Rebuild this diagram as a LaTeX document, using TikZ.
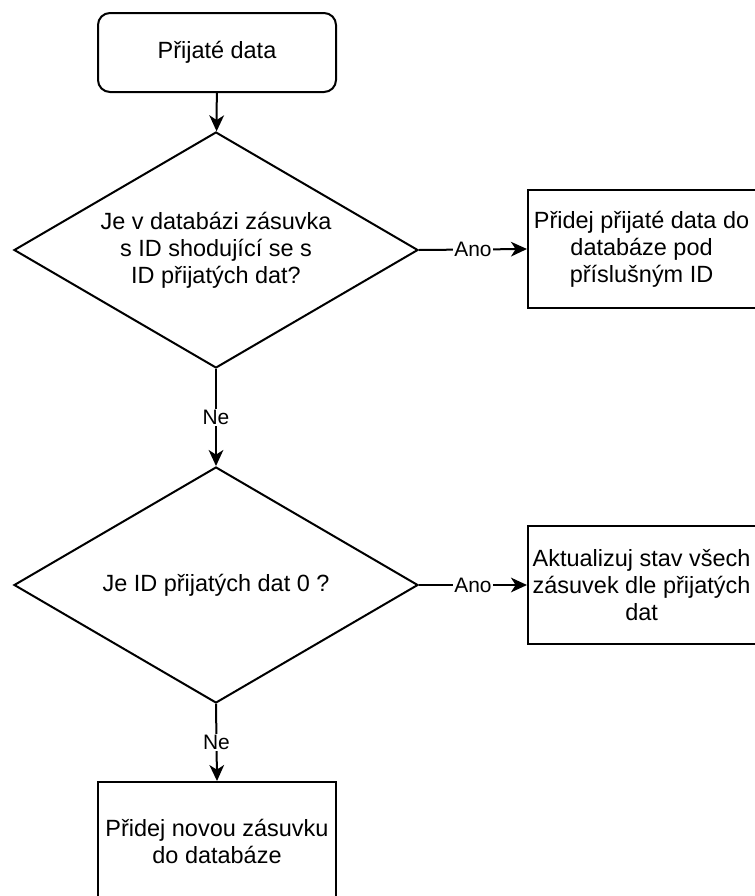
\documentclass[tikz,border=0pt]{standalone}
\usepackage{fontspec}
\setmainfont{Liberation Sans}
\usetikzlibrary{shapes.geometric,arrows.meta}

\tikzset{
  every node/.style={font=\fontsize{17.6}{20.25}\selectfont, align=center, inner sep=0pt},
  startbox/.style={draw, line width=1.5pt, rounded corners=9pt, minimum width=178.5pt, minimum height=59.25pt},
  actionbox/.style={draw, line width=1.5pt, minimum width=173pt, minimum height=88.5pt},
  widebox/.style={draw, line width=1.5pt, minimum width=178.5pt, minimum height=88.5pt},
  decision/.style={draw, diamond, aspect=1.71, line width=1.5pt, minimum width=303pt, minimum height=177pt},
  flow/.style={line width=1.5pt, -{Stealth[length=12pt, width=11pt, inset=3.5pt]}},
  answer/.style={font=\fontsize{15.7}{18}\selectfont, fill=white, inner sep=1pt}
}

\begin{document}
\begin{tikzpicture}[x=0.75pt, y=-0.75pt]
  \useasboundingbox (0,0) rectangle (755,896);

  \node[startbox] (start) at (217,52.5) {Přijaté data};
  \node[decision] (q1) at (216,250) {Je v databázi zásuvka\\s ID shodující se s\\ID přijatých dat?};
  \node[actionbox] (add) at (643.3,249) {\hspace*{-2.6pt}Přidej přijaté data do\\\hspace*{-2.6pt}databáze pod\\\hspace*{-2.6pt}příslušným ID};
  \node[decision] (q2) at (216,585) {Je ID přijatých dat 0 ?};
  \node[actionbox] (update) at (643.3,585) {\hspace*{-2.6pt}Aktualizuj stav všech\\\hspace*{-2.6pt}zásuvek dle přijatých\\\hspace*{-2.6pt}dat};
  \node[widebox] (new) at (217,841) {Přidej novou zásuvku\\do databáze};

  \draw[flow] (start) -- (q1);
  \draw[flow] (q1.east) -- node[answer] {Ano} (add.west);
  \draw[flow] (q1.south) -- node[answer] {Ne} (q2.north);
  \draw[flow] (q2.east) -- node[answer] {Ano} (update.west);
  \draw[flow] (q2.south) -- node[answer] {Ne} (new.north);
\end{tikzpicture}
\end{document}
